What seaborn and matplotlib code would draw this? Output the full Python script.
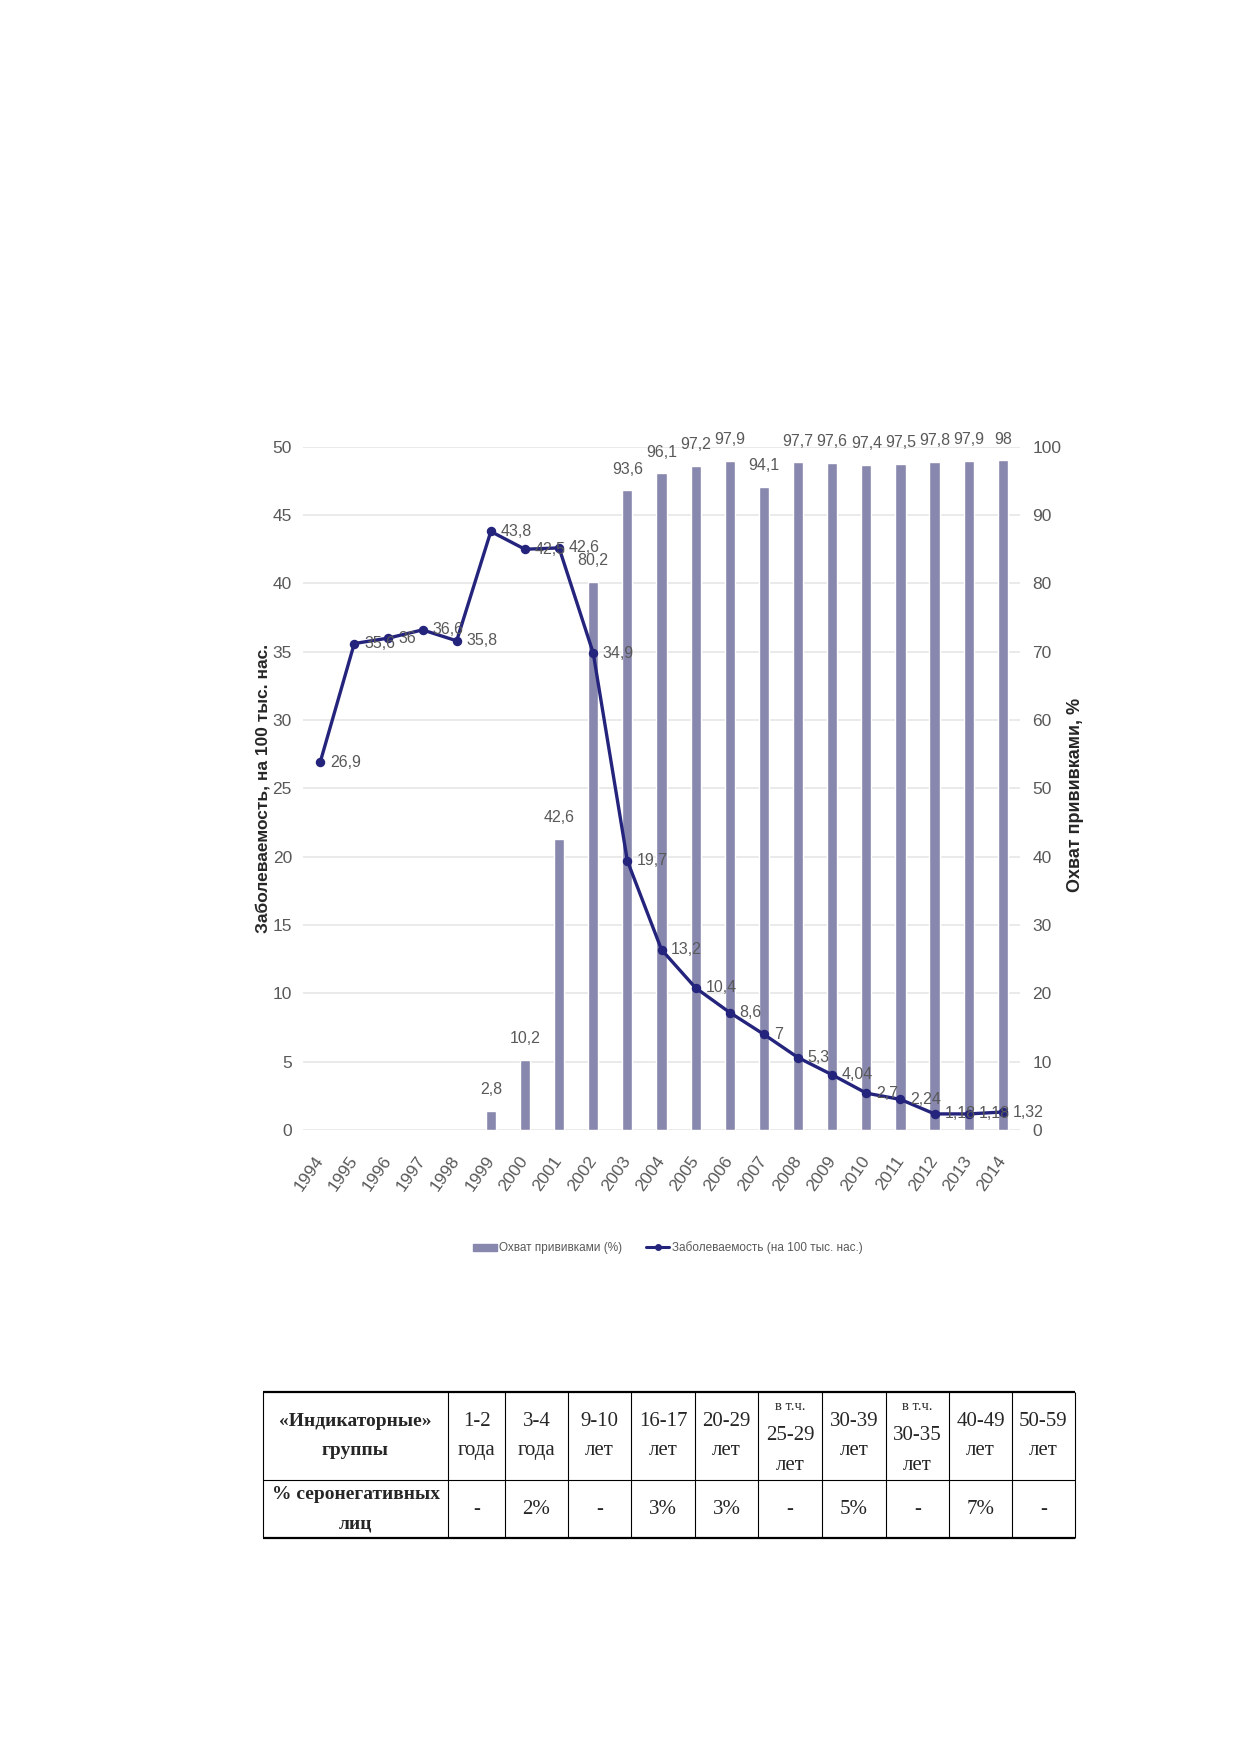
import matplotlib
matplotlib.use("Agg")
import matplotlib.pyplot as plt
from matplotlib import font_manager
from matplotlib.patches import Patch
from matplotlib.lines import Line2D
import pandas as pd
import seaborn as sns

# --- data ---
years = [str(y) for y in range(1994, 2015)]
incidence = [26.9, 35.6, 36, 36.6, 35.8, 43.8, 42.5, 42.6, 34.9, 19.7, 13.2,
             10.4, 8.6, 7, 5.3, 4.04, 2.7, 2.24, 1.18, 1.18, 1.32]
cov_years = [str(y) for y in range(1999, 2015)]
coverage = [2.8, 10.2, 42.6, 80.2, 93.6, 96.1, 97.2, 97.9, 94.1, 97.7,
            97.6, 97.4, 97.5, 97.8, 97.9, 98]

bar_name = "Охват прививками (%)"
line_name = "Заболеваемость (на 100 тыс. нас.)"
left_title = "Заболеваемость, на 100 тыс. нас."
right_title = "Охват прививками, %"

table_header = ["«Индикаторные»\nгруппы", "1-2\nгода", "3-4\nгода", "9-10\nлет",
                "16-17\nлет", "20-29\nлет", "в т.ч.\n25-29\nлет", "30-39\nлет",
                "в т.ч.\n30-35\nлет", "40-49\nлет", "50-59\nлет"]
table_values = ["% серонегативных\nлиц", "-", "2%", "-", "3%", "3%", "-",
                "5%", "-", "7%", "-"]

BAR_C = "#8888AE"
LINE_C = "#24247D"
GREY = "#595959"

sns.set_style("white")
names = {f.name for f in font_manager.fontManager.ttflist}
NARROW = "Liberation Sans Narrow" if "Liberation Sans Narrow" in names else "Liberation Sans"
plt.rcParams["font.family"] = [NARROW, "DejaVu Sans"]
LBL = 13 if NARROW.endswith("Narrow") else 11.5

fig = plt.figure(figsize=(12.39, 17.52), dpi=100)
ax = fig.add_axes([0.2446, 0.355, 0.5786, 0.390])
ax2 = ax.twinx()
ax.set_zorder(2)
ax2.set_zorder(1)
ax.patch.set_visible(False)

cov_df = pd.DataFrame({"year": cov_years, "cov": coverage})
sns.barplot(data=cov_df, x="year", y="cov", order=years, color=BAR_C,
            saturation=1, width=0.3, ax=ax2)
ax2.bar_label(ax2.containers[0], fmt=lambda v: f"{v:g}".replace(".", ","),
              padding=10, fontsize=LBL, color=GREY)

inc_df = pd.DataFrame({"year": years, "inc": incidence})
sns.pointplot(data=inc_df, x="year", y="inc", order=years, color=LINE_C,
              errorbar=None, markers="o", markersize=5, linewidth=2.4, ax=ax)
for i, v in enumerate(incidence):
    ax.annotate(f"{v:g}".replace(".", ","), (i, v), xytext=(7, 0),
                textcoords="offset points", ha="left", va="center",
                fontsize=LBL, color=GREY)

ax.set_ylim(0, 50)
ax2.set_ylim(0, 100)
ax.set_yticks(range(0, 51, 5))
ax2.set_yticks(range(0, 101, 10))
ax.set_xlim(-0.5, len(years) - 0.5)
ax.grid(False)
ax2.grid(False)
ax2.yaxis.grid(True, color="#E6E6E6", linewidth=1.2)
ax2.set_axisbelow(True)
for a in (ax, ax2):
    for s in a.spines.values():
        s.set_visible(False)
    a.tick_params(length=0, labelsize=12.5, labelcolor=GREY)
ax.tick_params(axis="y", pad=8)
ax2.tick_params(axis="y", pad=9)
ax.tick_params(axis="x", pad=20)
for lbl in ax.get_xticklabels():
    lbl.set_rotation(55)
    lbl.set_ha("right")
    lbl.set_va("center")
    lbl.set_rotation_mode("anchor")

ax.set_xlabel("")
ax2.set_xlabel("")
ax.set_ylabel(left_title, fontsize=12.5, fontweight="bold", family="Liberation Sans")
ax2.set_ylabel(right_title, fontsize=13, fontweight="bold", family="Liberation Sans",
               rotation=90)
ax.yaxis.set_label_coords(-0.045, 0.5)
ax2.yaxis.set_label_coords(1.066, 0.49)

handles = [Patch(color=BAR_C),
           Line2D([], [], color=LINE_C, lw=2.2, marker="o", markersize=4)]
fig.legend(handles, [bar_name, line_name], loc="center", ncol=2, frameon=False,
           bbox_to_anchor=(0.539, 0.2877), fontsize=8.5, labelcolor=GREY,
           handlelength=2.0, handleheight=0.6, handletextpad=0.2,
           columnspacing=2.0)

# --- table under the chart, drawn in pixel coordinates ---
tab = fig.add_axes([0, 0, 1, 1])
tab.set_xlim(0, 1239)
tab.set_ylim(1752, 0)
tab.axis("off")
tab.patch.set_visible(False)
col_edges = [263, 448, 505, 568, 631, 695, 758, 822, 886, 949, 1012, 1075]
row_edges = [1392, 1480, 1538]
tab.hlines(row_edges[0], col_edges[0], col_edges[-1], color="black", lw=1.6)
tab.hlines(row_edges[1], col_edges[0], col_edges[-1], color="black", lw=0.8)
tab.hlines(row_edges[2], col_edges[0], col_edges[-1], color="black", lw=1.6)
tab.vlines(col_edges, row_edges[0], row_edges[-1], color="black", lw=0.8)

step = 29
for r, row in enumerate([table_header, table_values]):
    yc = (row_edges[r] + row_edges[r + 1]) / 2
    for c, txt in enumerate(row):
        xc = (col_edges[c] + col_edges[c + 1]) / 2
        parts = txt.split("\n")
        n = len(parts)
        for k, p in enumerate(parts):
            y = yc + (k - (n - 1) / 2) * step
            small = p.startswith("в т.ч.")
            size = 10.5 if small else (14 if c == 0 else 15)
            tab.text(xc, y, p, ha="center", va="center",
                     family="Liberation Serif", fontsize=size,
                     fontweight="bold" if c == 0 else "normal")

fig.savefig("out.png", dpi=100, facecolor="white")
